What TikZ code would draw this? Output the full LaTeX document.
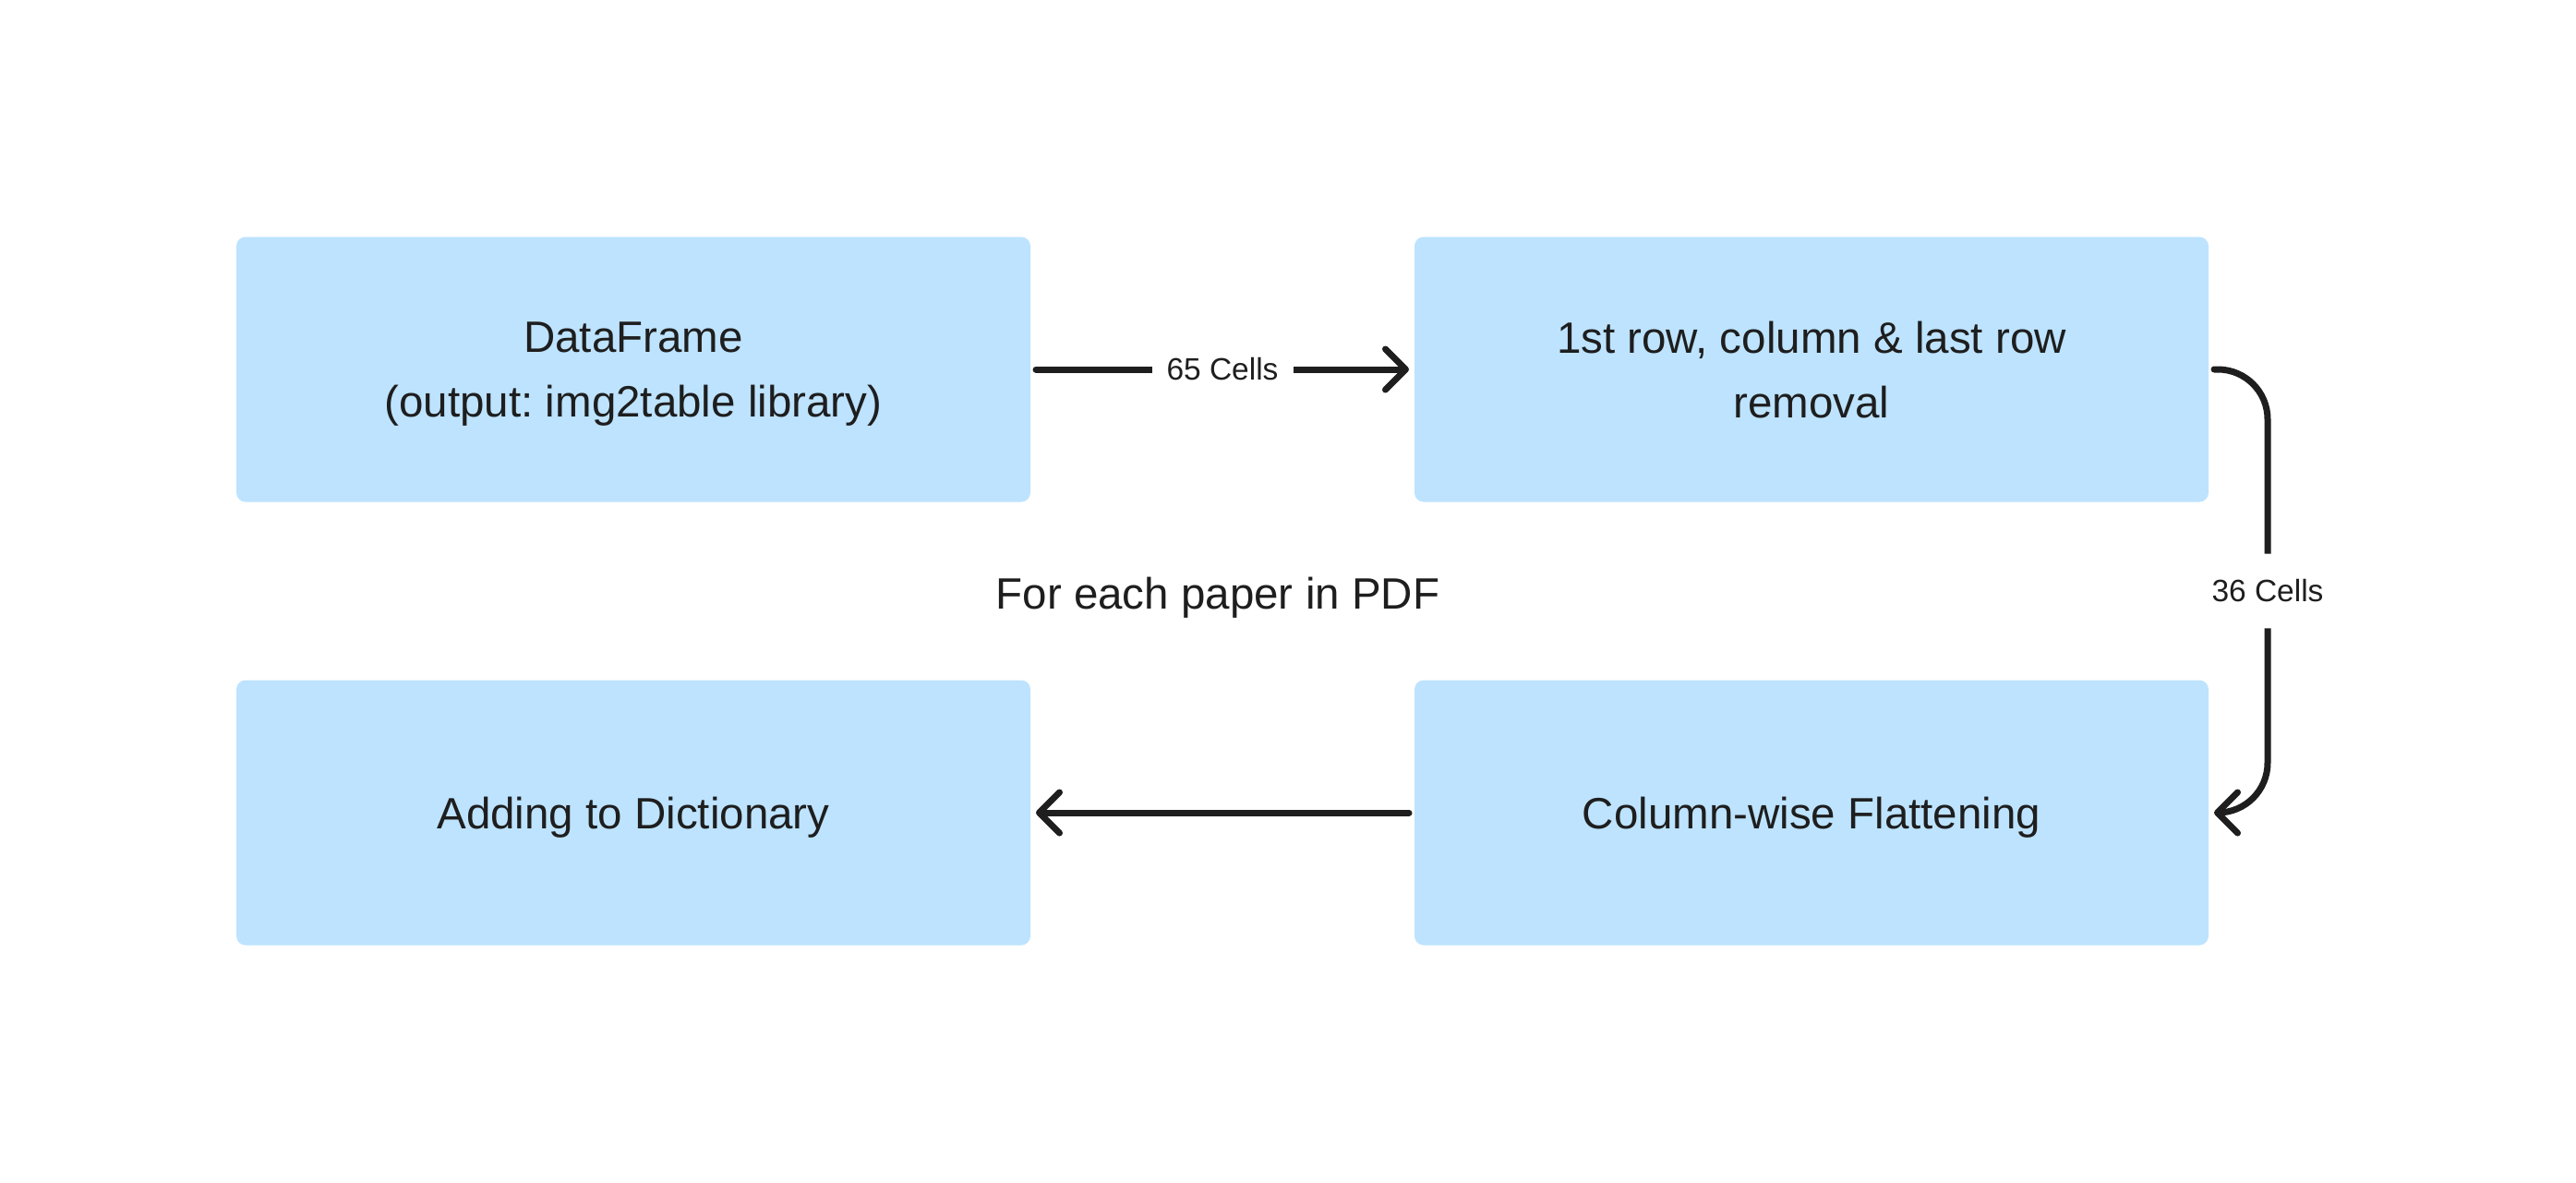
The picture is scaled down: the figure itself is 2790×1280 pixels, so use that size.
\documentclass[tikz,border=0pt]{standalone}
\usepackage{fontspec}
\setmainfont{Liberation Sans}
\frenchspacing
\usetikzlibrary{arrows.meta}
\definecolor{boxblue}{HTML}{BDE3FF}
\definecolor{ink}{HTML}{1E1E1E}
\begin{document}
\begin{tikzpicture}[x=0.5pt, y=-0.5pt,
	box/.style={rectangle, rounded corners=5pt, fill=boxblue, text=ink, minimum width=430pt, minimum height=143.5pt, align=center, text depth=0pt, outer sep=3pt, font=\fontsize{23.75}{35}\selectfont},
	lbl/.style={fill=white, text=ink, inner xsep=8pt, inner ysep=14pt, font=\fontsize{16.75}{20}\selectfont},
	conn/.style={draw=ink, line width=3.5pt, line cap=round, -{Straight Barb[length=11pt, width=22pt, round]}}]
	\useasboundingbox (0,0) rectangle (2790,1280);
	\node [box] (df) at (686,400) {DataFrame\\(output: img2table library)};
	\node [box] (rem) at (1962,400) {1st row, column \& last row\\removal};
	\node [box] (flat) at (1962,880) {Column-wise Flattening};
	\node [box] (dict) at (686,880) {Adding to Dictionary};
	\node [text=ink, text depth=0pt, font=\fontsize{23.75}{35}\selectfont] (loop) at (1319,642) {For each paper in PDF};
	% frecce
	\draw [conn] (df) -- node [lbl] {65 Cells} (rem);
	\coordinate (turn) at ([xshift=29pt]rem.east);
	\draw [conn, rounded corners=27pt] (rem.east) -- (turn) -- node [lbl] {36 Cells} (turn |- flat.east) -- (flat.east);
	\draw [conn] (flat) -- (dict);
\end{tikzpicture}
\end{document}
